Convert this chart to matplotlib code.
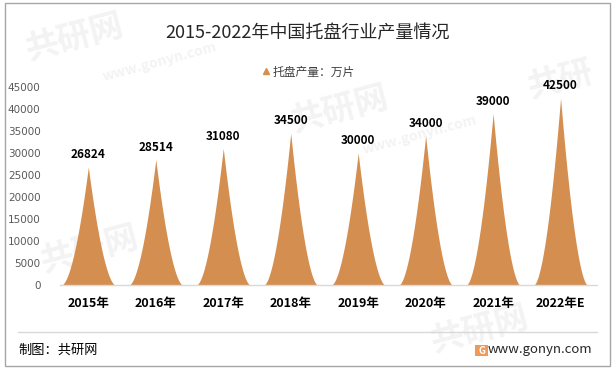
import numpy as np
import matplotlib.pyplot as plt
from matplotlib.patches import Rectangle
from matplotlib.lines import Line2D

plt.rcParams['font.family'] = ['Noto Sans CJK SC', 'DejaVu Sans']

# Data
years = ['2015年', '2016年', '2017年', '2018年', '2019年', '2020年', '2021年', '2022年E']
output = [26824, 28514, 31080, 34500, 30000, 34000, 39000, 42500]
series_name = '托盘产量：万片'

color = '#D48E50'

W, H = 615, 374
fig = plt.figure(figsize=(W / 100, H / 100), dpi=100)

# outer border
fig.patches.append(Rectangle((5 / W, 1 - 366 / H), 605 / W, 363 / H, transform=fig.transFigure,
                             fill=False, edgecolor='#a6a6a6', linewidth=1.0))

# faint watermarks
for (x, y, s, fs) in [(75, 38, '共研网', 24), (160, 62, 'www.gonyn.com', 10),
                      (340, 110, '共研网', 24), (420, 135, 'www.gonyn.com', 10),
                      (560, 80, '共研', 24), (90, 250, '共研网', 24), (480, 330, '共研网', 24)]:
    fig.text(x / W, 1 - y / H, s, fontsize=fs, color='#f3f3f3', rotation=15,
             ha='center', va='center', fontweight='bold', zorder=0)

ax = fig.add_axes([60 / W, 1 - 285 / H, 537 / W, 198 / H])
ax.set_facecolor('none')
ax.set_zorder(2)

# sharp peak shapes (concave sides)
half = 0.4
t = np.linspace(-1, 1, 201)
for i, v in enumerate(output):
    xs = i + t * half
    ys = v * (1 - np.abs(t)) ** 1.75
    ax.fill_between(xs, 0, ys, color=color, linewidth=0, zorder=2)
    ax.text(i, v + 1300, f'{v}', ha='center', va='bottom', fontsize=8.5,
            fontweight='bold', color='black', zorder=3)

ax.set_xlim(-0.42, 7.54)
ax.set_ylim(0, 45000)
ax.set_yticks(np.arange(0, 45001, 5000))
ax.set_xticks(range(len(years)))
ax.set_xticklabels(years, fontsize=9, fontweight='bold', color='black')
ax.tick_params(axis='x', length=0, pad=9)
ax.tick_params(axis='y', length=0, pad=14, labelsize=7.5, labelcolor='#595959')
for lab in ax.get_yticklabels():
    lab.set_family(['DejaVu Sans'])
for s in ['top', 'right', 'left']:
    ax.spines[s].set_visible(False)
ax.spines['bottom'].set_color('#d9d9d9')
ax.spines['bottom'].set_linewidth(1.0)

# title & legend
fig.text(308 / W, 1 - 33 / H, '2015-2022年中国托盘行业产量情况', ha='center', va='center',
         fontsize=13, color='#262626', zorder=3)
leg_h = Line2D([], [], marker='^', color=color, linestyle='none', markersize=5)
leg = fig.legend([leg_h], [series_name], loc='center', bbox_to_anchor=(308 / W, 1 - 72 / H),
                 frameon=False, fontsize=8.5, handletextpad=0.1, handlelength=0.8,
                 labelcolor='#404040')
leg.set_zorder(3)

# footer
fig.add_artist(Line2D([18 / W, 597 / W], [1 - 332 / H, 1 - 332 / H], color='#d9d9d9', linewidth=1.0))
fig.text(18 / W, 1 - 350 / H, '制图：共研网', ha='left', va='center', fontsize=9.5, color='black', zorder=3)
logo = Rectangle((475 / W, 1 - 356 / H), 13 / W, 11 / H, transform=fig.transFigure,
                 facecolor='#F09A5A', edgecolor='none', zorder=3)
fig.patches.append(logo)
fig.text(481.5 / W, 1 - 350.5 / H, 'G', ha='center', va='center', fontsize=7, color='white',
         fontweight='bold', zorder=4)
fig.text(592 / W, 1 - 350 / H, 'www.gonyn.com', ha='right', va='center', fontsize=9.5,
         color='#262626', zorder=3)

fig.savefig('out.png', dpi=100)
